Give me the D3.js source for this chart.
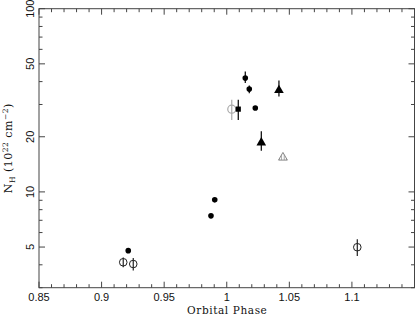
<!DOCTYPE html>
<html><head><meta charset="utf-8">
<script src="https://cdn.jsdelivr.net/npm/d3@7"></script>
<style>body{margin:0;background:#fff}svg{display:block}</style>
</head><body>
<script>
// Filled circles
const fcPhase = [1.0148, 1.0180, 1.0228, 0.9904, 0.9874, 0.9213];
const fcNH    = [41.8, 36.4, 28.7, 9.05, 7.4, 4.78];
const fcHi    = [45.4, 38.1, null, null, null, null];
const fcLo    = [39.3, 34.6, null, null, null, null];
// Filled square
const sqPhase = [1.0092];
const sqNH = [28.3]; const sqHi = [31.8]; const sqLo = [24.7];
// Grey open circle
const gcPhase = [1.0040];
const gcNH = [28.3]; const gcHi = [31.8]; const gcLo = [24.7];
// Filled triangles
const trPhase = [1.0417, 1.0276];
const trNH = [36.1, 18.7]; const trHi = [40.6, 21.4]; const trLo = [33.2, 16.8];
// Hatched grey triangle
const htPhase = [1.0449];
const htNH = [15.5];
// Open circles
const ocPhase = [0.9173, 0.9253, 1.1043];
const ocNH = [4.13, 4.04, 4.99]; const ocHi = [4.38, 4.36, 5.51]; const ocLo = [3.88, 3.72, 4.47];

const xMajor = [0.85, 0.9, 0.95, 1, 1.05, 1.1, 1.15];
const xLabels = ["0.85", "0.9", "0.95", "1", "1.05", "1.1", ""];
const yMajor = [5, 10, 20, 50, 100];
const yLabels = ["5", "10", "20", "50", "100"];
const yMinor = [3, 4, 6, 7, 8, 9, 30, 40, 60, 70, 80, 90];

const W = 415, H = 315;
const L = 39, R = 414.5, T = 8.7, B = 287.7;
const x = d3.scaleLinear().domain([0.85, 1.15]).range([L, R]);
const y = d3.scaleLog().domain([3, 100]).range([B, T]);

const svg = d3.select("body").append("svg").attr("width", W).attr("height", H);
const defs = svg.append("defs");
const pat = defs.append("pattern").attr("id", "hatch").attr("patternUnits", "userSpaceOnUse")
  .attr("width", 2.5).attr("height", 2.5);
pat.append("line").attr("x1", 1.2).attr("y1", 0).attr("x2", 1.2).attr("y2", 2.5)
  .attr("stroke", "#999").attr("stroke-width", 0.9);

const axCol = "#444";
const g = svg.append("g");

g.append("rect").attr("x", L).attr("y", T).attr("width", R - L).attr("height", B - T)
  .attr("fill", "none").attr("stroke", axCol).attr("stroke-width", 1);

const xMinor = d3.range(85, 116).map(v => v / 100).filter(v => !xMajor.some(m => Math.abs(m - v) < 1e-6));
const drawXTicks = (vals, len) => {
  vals.forEach(v => {
    const px = x(v);
    g.append("line").attr("x1", px).attr("x2", px).attr("y1", B).attr("y2", B - len).attr("stroke", axCol);
    g.append("line").attr("x1", px).attr("x2", px).attr("y1", T).attr("y2", T + len).attr("stroke", axCol);
  });
};
drawXTicks(xMajor, 6);
drawXTicks(xMinor, 3.5);
const drawYTicks = (vals, len) => {
  vals.forEach(v => {
    const py = y(v);
    g.append("line").attr("y1", py).attr("y2", py).attr("x1", L).attr("x2", L + len).attr("stroke", axCol);
    g.append("line").attr("y1", py).attr("y2", py).attr("x1", R).attr("x2", R - len).attr("stroke", axCol);
  });
};
drawYTicks(yMajor, 6);
drawYTicks(yMinor, 3.5);

const tickFont = "Liberation Sans, Arial, sans-serif";
xMajor.forEach((v, i) => {
  g.append("text").attr("x", x(v)).attr("y", 301).attr("text-anchor", "middle")
    .attr("font-family", tickFont).attr("font-size", 11).attr("fill", "#111").text(xLabels[i]);
});
yMajor.forEach((v, i) => {
  g.append("text").attr("transform", `translate(34,${y(v)}) rotate(-90)`).attr("text-anchor", "middle")
    .attr("font-family", tickFont).attr("font-size", 11).attr("fill", "#111").text(yLabels[i]);
});

const titleFont = "DejaVu Serif, Liberation Serif, serif";
g.append("text").attr("x", (L + R) / 2 + 0.5).attr("y", 314).attr("text-anchor", "middle")
  .attr("font-family", titleFont).attr("font-size", 10.5).attr("letter-spacing", 0.6)
  .attr("fill", "#111").text("Orbital Phase");

const yl = g.append("text").attr("transform", `translate(12,${(T + B) / 2}) rotate(-90)`)
  .attr("text-anchor", "middle").attr("font-family", titleFont).attr("font-size", 11)
  .attr("letter-spacing", 0.5).attr("fill", "#111");
yl.append("tspan").text("N");
yl.append("tspan").attr("font-size", 7.5).attr("dy", 3).text("H");
yl.append("tspan").attr("dy", -3).text(" (10");
yl.append("tspan").attr("font-size", 7.5).attr("dy", -4).text("22");
yl.append("tspan").attr("dy", 4).text(" cm");
yl.append("tspan").attr("font-size", 7.5).attr("dy", -4).text("\u22122");
yl.append("tspan").attr("dy", 4).text(")");

function errBars(px, hi, lo, col) {
  px.forEach((p, i) => {
    if (hi[i] == null) return;
    g.append("line").attr("x1", x(p)).attr("x2", x(p)).attr("y1", y(hi[i])).attr("y2", y(lo[i]))
      .attr("stroke", col).attr("stroke-width", 1.2);
  });
}

errBars(gcPhase, gcHi, gcLo, "#aaa");
gcPhase.forEach((p, i) => g.append("circle").attr("cx", x(p)).attr("cy", y(gcNH[i])).attr("r", 4)
  .attr("fill", "none").attr("stroke", "#aaa").attr("stroke-width", 1.2));

errBars(ocPhase, ocHi, ocLo, "#222");
ocPhase.forEach((p, i) => g.append("circle").attr("cx", x(p)).attr("cy", y(ocNH[i])).attr("r", 3.8)
  .attr("fill", "none").attr("stroke", "#222").attr("stroke-width", 1));

errBars(fcPhase, fcHi, fcLo, "#000");
fcPhase.forEach((p, i) => g.append("circle").attr("cx", x(p)).attr("cy", y(fcNH[i])).attr("r", 2.8).attr("fill", "#000"));

errBars(sqPhase, sqHi, sqLo, "#000");
sqPhase.forEach((p, i) => g.append("rect").attr("x", x(p) - 2.6).attr("y", y(sqNH[i]) - 2.6)
  .attr("width", 5.2).attr("height", 5.2).attr("fill", "#000"));

errBars(trPhase, trHi, trLo, "#000");
const tri = d3.symbol().type(d3.symbolTriangle).size(40);
trPhase.forEach((p, i) => g.append("path").attr("d", tri())
  .attr("transform", `translate(${x(p)},${y(trNH[i]) + 0.5})`).attr("fill", "#000"));

const tri2 = d3.symbol().type(d3.symbolTriangle).size(34);
htPhase.forEach((p, i) => g.append("path").attr("d", tri2())
  .attr("transform", `translate(${x(p)},${y(htNH[i]) + 0.5})`).attr("fill", "url(#hatch)")
  .attr("stroke", "#888").attr("stroke-width", 1));
</script>
</body></html>
